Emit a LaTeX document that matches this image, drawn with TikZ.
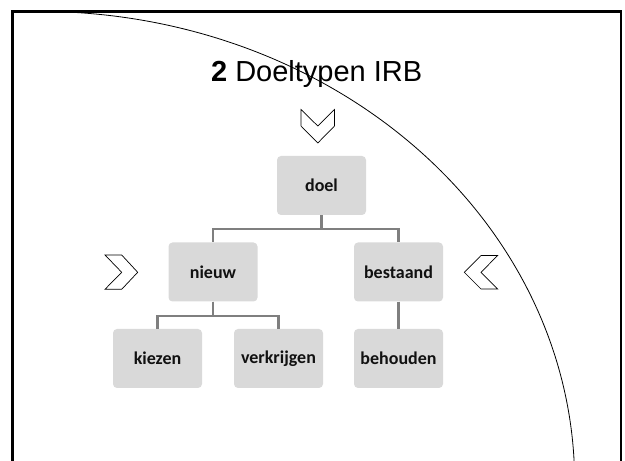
\documentclass[tikz,border=0pt]{standalone}
\usepackage{fontspec}
\setmainfont{Liberation Sans}
\newfontfamily\boxfont{Carlito}
\definecolor{boxgray}{HTML}{D9D9D9}
\definecolor{conngray}{HTML}{7F7F7F}
\definecolor{textdark}{HTML}{111111}
\begin{document}
\begin{tikzpicture}[x=1pt,y=1pt,
  box/.style={fill=boxgray, rounded corners=4pt, minimum width=89pt, minimum height=59pt, inner sep=0pt,
    font=\boxfont\bfseries\fontsize{18}{21}\selectfont, text=textdark},
  conn/.style={draw=conngray, line width=2.2pt},
  chev/.style={draw=black, line width=0.7pt, fill=white, line join=miter},
  framestyle/.style={draw=black, line width=2.4pt},
  arcstyle/.style={draw=black, line width=0.8pt}]
\useasboundingbox (0,0) rectangle (625,461);
% boxes
\node[box] (doel) at (321.5,275.5) {doel};
\node[box] (nieuw) at (213,189) {nieuw};
\node[box] (bestaand) at (398.5,189) {bestaand};
\node[box] (kiezen) at (157.5,102.5) {kiezen};
\node[box] (verkrijgen) at (278.5,102.5) {verkrijgen};
\node[box] (behouden) at (398.5,102.5) {behouden};
% connectors
\draw[conn] (doel.south) -- ++(0,-14) -| (nieuw.north);
\draw[conn] (doel.south) -- ++(0,-14) -| (bestaand.north);
\draw[conn] (nieuw.south) -- ++(0,-14) -| (kiezen.north);
\draw[conn] (nieuw.south) -- ++(0,-14) -| (verkrijgen.north);
\draw[conn] (bestaand.south) -- (behouden.north);
% title
\node[anchor=base, font=\fontsize{29}{34}\selectfont, inner sep=0pt] (title) at (316.7,379.3) {\textbf{2} Doeltypen IRB};
% chevrons
\draw[chev] (301,351.5) -- (317.8,335) -- (334.5,351.5) -- (334.5,335) -- (317.8,318) -- (301,335) -- cycle;
\draw[chev] (105,206) -- (121.7,206) -- (137.7,188.7) -- (121.7,171.7) -- (105,171.7) -- (121.7,188.7) -- cycle;
\draw[chev] (497.7,205.5) -- (481,205.5) -- (464.3,188.7) -- (481,172) -- (497.7,172) -- (481,188.7) -- cycle;
% arc
\begin{scope}
\clip (12.5,0) rectangle (621,449.3);
\draw[arcstyle] (39.05,449.6) arc[start angle=90, end angle=-5, x radius=535.6, y radius=470.9];
\end{scope}
% frame
\draw[framestyle] (12.5,0) -- (12.5,449.3) -- (621,449.3) -- (621,0);
\end{tikzpicture}
\end{document}
